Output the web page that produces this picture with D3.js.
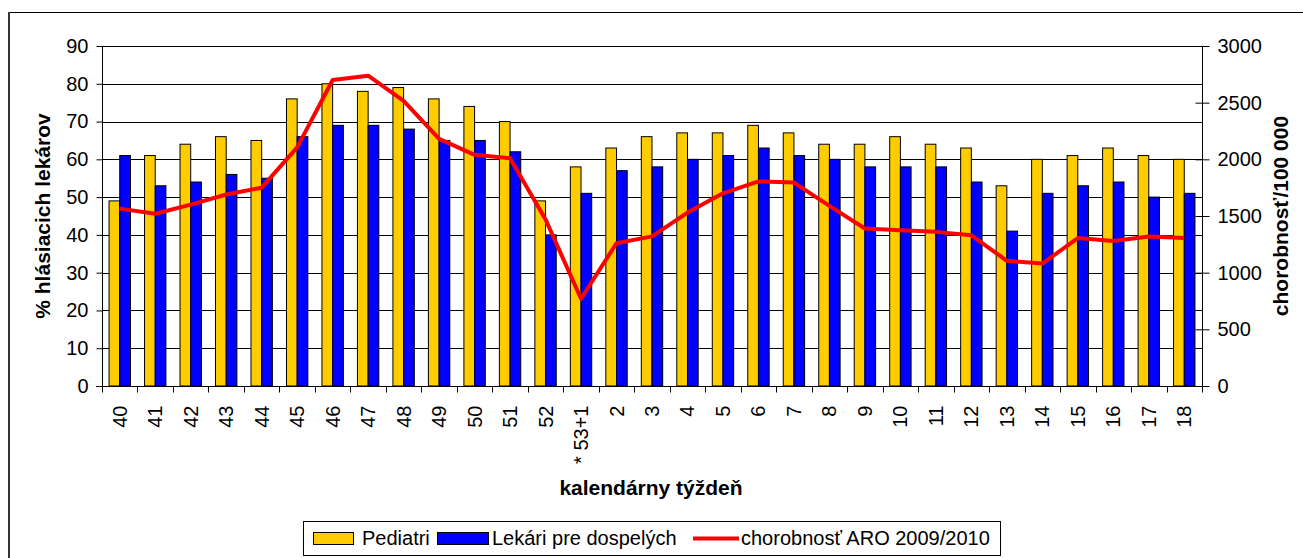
<!DOCTYPE html>
<meta charset="utf-8">
<script src="https://d3js.org/d3.v7.min.js"></script>
<style>
    body { margin: 0; background: #fff; }
    svg { font-family: "Liberation Sans", Arial, sans-serif; display: block; }
</style>
<svg width="1303" height="558"></svg>
<script>

    const weeks = ["40", "41", "42", "43", "44", "45", "46", "47", "48", "49", "50", "51", "52", "* 53+1",
        "2", "3", "4", "5", "6", "7", "8", "9", "10", "11", "12", "13", "14", "15", "16", "17", "18"];
    const pediatri = [49, 61, 64, 66, 65, 76, 80, 78, 79, 76, 74, 70, 49, 58,
        63, 66, 67, 67, 69, 67, 64, 64, 66, 64, 63, 53, 60, 61, 63, 61, 60];
    const lekari = [61, 53, 54, 56, 55, 66, 69, 69, 68, 65, 65, 62, 40, 51,
        57, 58, 60, 61, 63, 61, 60, 58, 58, 58, 54, 41, 51, 53, 54, 50, 51];
    const chorobnost = [1565, 1520, 1600, 1690, 1750, 2105, 2700, 2738, 2515, 2180, 2040, 2010, 1470, 770,
        1260, 1320, 1530, 1700, 1805, 1795, 1590, 1390, 1375, 1360, 1330, 1105, 1080, 1305, 1280, 1320, 1305];
    const leftTicks = [0, 10, 20, 30, 40, 50, 60, 70, 80, 90];
    const rightTicks = [0, 500, 1000, 1500, 2000, 2500, 3000];
    const seriesNames = ["Pediatri", "Lekári pre dospelých", "chorobnosť ARO 2009/2010"];

    const plotL = 102, plotR = 1202, plotT = 46, plotB = 386;
    const svg = d3.select('svg');

    // outer frame
    svg.append('rect')
        .attr('x', 9.5).attr('y', 12.5)
        .attr('width', 1400).attr('height', 700)
        .attr('fill', 'none').attr('stroke', '#000').attr('stroke-width', 1);
    svg.append('line')
        .attr('x1', 9).attr('x2', 9).attr('y1', 12).attr('y2', 558)
        .attr('stroke', '#333').attr('stroke-width', 2);

    const x = d3.scaleBand().domain(weeks).range([plotL, plotR]);
    const xSub = d3.scaleBand().domain(['p', 'l']).range([0, x.bandwidth()]).paddingOuter(0.66);
    const y = d3.scaleLinear().domain([0, 90]).range([plotB, plotT]);
    const y2 = d3.scaleLinear().domain([0, 3000]).range([plotB, plotT]);

    // gridlines
    svg.append('g')
        .selectAll('line')
        .data(leftTicks.slice(1))
        .enter().append('line')
        .attr('x1', plotL).attr('x2', plotR)
        .attr('y1', d => Math.round(y(d)) + 0.5).attr('y2', d => Math.round(y(d)) + 0.5)
        .attr('stroke', '#000').attr('stroke-width', 1);

    // bars
    const groups = svg.append('g')
        .selectAll('g')
        .data(weeks.map((w, i) => ({w: w, p: pediatri[i], l: lekari[i]})))
        .enter().append('g')
        .attr('transform', d => 'translate(' + x(d.w) + ',0)');

    groups.append('rect')
        .attr('x', xSub('p')).attr('width', xSub.bandwidth())
        .attr('y', d => y(d.p)).attr('height', d => y(0) - y(d.p))
        .attr('fill', '#FFCC00').attr('stroke', '#000').attr('stroke-width', 1);

    groups.append('rect')
        .attr('x', xSub('l')).attr('width', xSub.bandwidth())
        .attr('y', d => y(d.l)).attr('height', d => y(0) - y(d.l))
        .attr('fill', '#0000FF').attr('stroke', '#000').attr('stroke-width', 1);

    // line
    const line = d3.line()
        .x((d, i) => x(weeks[i]) + x.bandwidth() / 2)
        .y(d => y2(d));

    svg.append('path')
        .datum(chorobnost)
        .attr('d', line)
        .attr('fill', 'none')
        .attr('stroke', '#FF0000')
        .attr('stroke-width', 4)
        .attr('stroke-linejoin', 'round');

    // left axis
    const gL = svg.append('g')
        .attr('transform', 'translate(' + (plotL + 0.5) + ',0)')
        .call(d3.axisLeft(y).tickValues(leftTicks).tickSize(6).tickPadding(8));
    gL.select('.domain').attr('d', 'M0,' + plotT + 'V' + (plotB + 6));

    // right axis
    const gR = svg.append('g')
        .attr('transform', 'translate(' + (plotR + 0.5) + ',0)')
        .call(d3.axisRight(y2).tickValues(rightTicks).tickFormat(d3.format('d')).tickSize(7).tickPadding(8));
    gR.selectAll('.tick line').attr('x1', -7);
    gR.select('.domain').attr('d', 'M0,' + plotT + 'V' + plotB);

    // bottom axis
    const gB = svg.append('g')
        .attr('transform', 'translate(0,' + (plotB + 0.5) + ')')
        .call(d3.axisBottom(x).tickSize(0).tickSizeOuter(0));
    gB.select('.domain').attr('d', 'M' + (plotL - 6) + ',0H' + plotR);
    gB.selectAll('.tick text')
        .attr('transform', 'rotate(-90)')
        .attr('text-anchor', 'end')
        .attr('x', -19)
        .attr('y', 0)
        .attr('dy', '0.35em');

    gB.append('g')
        .selectAll('line')
        .data(weeks.concat(['end']))
        .enter().append('line')
        .attr('x1', (d, i) => Math.round(plotL + i * x.step()) + 0.5)
        .attr('x2', (d, i) => Math.round(plotL + i * x.step()) + 0.5)
        .attr('y1', 0).attr('y2', 6)
        .attr('stroke', '#000');

    svg.selectAll('.tick text')
        .style('font-size', '20px')
        .attr('fill', '#000');
    svg.selectAll('.tick line, .domain').attr('stroke', '#000');

    // axis titles
    svg.append('text')
        .attr('transform', 'translate(50,' + (plotT + plotB) / 2 + ') rotate(-90)')
        .attr('text-anchor', 'middle')
        .style('font-size', '21px').style('font-weight', 'bold')
        .text('% hlásiacich lekárov');

    svg.append('text')
        .attr('transform', 'translate(1288,' + (plotT + plotB) / 2 + ') rotate(-90)')
        .attr('text-anchor', 'middle')
        .style('font-size', '21px').style('font-weight', 'bold')
        .text('chorobnosť/100 000');

    svg.append('text')
        .attr('x', 651).attr('y', 495)
        .attr('text-anchor', 'middle')
        .style('font-size', '21px').style('font-weight', 'bold')
        .text('kalendárny týždeň');

    // legend
    const lg = svg.append('g');
    lg.append('rect')
        .attr('x', 303.5).attr('y', 521.5)
        .attr('width', 697).attr('height', 34)
        .attr('fill', '#fff').attr('stroke', '#000');

    lg.append('rect')
        .attr('x', 313.5).attr('y', 532.5).attr('width', 40).attr('height', 12)
        .attr('fill', '#FFCC00').attr('stroke', '#000');
    lg.append('text').attr('x', 362).attr('y', 545).style('font-size', '20px').text(seriesNames[0]);

    lg.append('rect')
        .attr('x', 437.5).attr('y', 532.5).attr('width', 51).attr('height', 12)
        .attr('fill', '#0000FF').attr('stroke', '#000');
    lg.append('text').attr('x', 492).attr('y', 545).style('font-size', '20px').text(seriesNames[1]);

    lg.append('line')
        .attr('x1', 693).attr('x2', 739).attr('y1', 538.5).attr('y2', 538.5)
        .attr('stroke', '#FF0000').attr('stroke-width', 4);
    lg.append('text').attr('x', 741).attr('y', 545).style('font-size', '20px').text(seriesNames[2]);

</script>
